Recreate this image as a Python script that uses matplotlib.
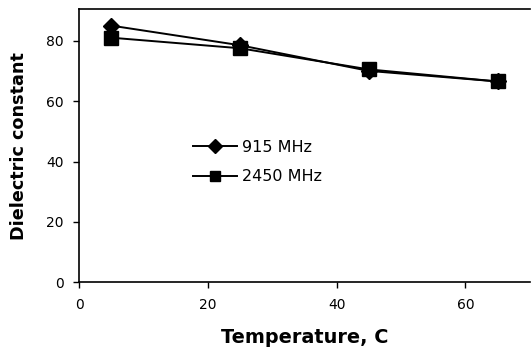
import matplotlib
matplotlib.use("Agg")
import matplotlib.pyplot as plt

temps = [5, 25, 45, 65]
eps_915 = [85, 78.5, 70, 66.5]
eps_2450 = [81, 77.5, 70.5, 66.5]
series_labels = ["915 MHz", "2450 MHz"]
xticks = [0, 20, 40, 60]
yticks = [0, 20, 40, 60, 80]

plt.rcParams['font.family'] = ['DejaVu Sans']

fig = plt.figure(figsize=(5.32, 3.53), dpi=100)
ax = fig.add_axes([0.1485, 0.2003, 0.8475, 0.7742])

ax.plot(temps, eps_915, color='black', lw=1.4, marker='D', ms=8.5, label=series_labels[0])
ax.plot(temps, eps_2450, color='black', lw=1.4, marker='s', ms=9.5, label=series_labels[1])

ax.set_xlim(0, 70)
ax.set_ylim(0, 90.5)
ax.set_xticks(xticks)
ax.set_yticks(yticks)
ax.tick_params(labelsize=10, length=4, width=1, direction='out', pad=7)
for s in ['left', 'bottom', 'top']:
    ax.spines[s].set_linewidth(1.2)
ax.spines['right'].set_visible(False)

ax.set_xlabel("Temperature, C", fontsize=13.9, fontweight='bold', labelpad=12)
ax.set_ylabel("Dielectric constant", fontsize=12.7, fontweight='bold', labelpad=13)

ax.legend(frameon=False, loc='center left', bbox_to_anchor=(0.253, 0.44), fontsize=11.5,
          handlelength=2.75, handletextpad=0.3, labelspacing=0.9, borderpad=0,
          borderaxespad=0, markerscale=0.8)

fig.savefig("out.png", dpi=100)
